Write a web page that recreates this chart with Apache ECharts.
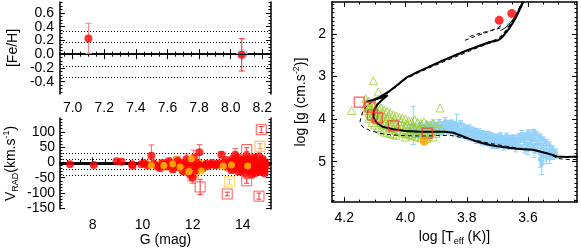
<!DOCTYPE html>
<html><head><meta charset="utf-8">
<script src="https://cdn.jsdelivr.net/npm/echarts@6/dist/echarts.min.js"></script>
<style>html,body{margin:0;padding:0;background:#fff}#c{width:581px;height:251px}</style>
</head><body><div id="c"></div>
<script>
// ---------------- DATA ----------------
// Top-left: [Fe/H] vs G
const fehG = [7.10, 8.07];
const fehVal = [0.23, -0.01];
const fehErr = [0.22, 0.235];
const fehMean = [0.0];
const fehDotted = [0.33, 0.165, -0.165, -0.33];
const fehXTicks = [7.0, 7.2, 7.4, 7.6, 7.8, 8.0, 8.2];
const fehYTicks = [-0.4, -0.2, 0.0, 0.2, 0.4, 0.6];
const fehYLabelsA = [-0.4, 0.0, 0.4];
const fehYLabelsB = [-0.2, 0.2, 0.6];

// Bottom-left: V_RAD vs G  [G, V, err]
const vradMean = [-6];
const vradDotted = [29, 11, -23, -41];
const gTicks = [8, 10, 12, 14];
const vTicks = [-150, -100, -50, 0, 50, 100];
const vradRed = [
 [7.10,-6,0],[8.05,-8,0],[8.96,4,0],[9.16,2,0],[9.58,-6,0],[9.60,-11,0],[9.95,-6,0],[10.05,-3,0],
 [10.20,-10,0],[10.35,22,35],[10.45,-4,0],[10.60,-14,0],[10.70,-19,0],[10.80,-2,0],[10.90,-8,8],
 [11.00,-12,0],[11.05,3,12],[11.15,-6,0],[11.20,-22,10],[11.30,-10,0],[11.40,5,14],[11.45,-15,0],
 [11.55,-2,0],[11.60,-28,0],[11.70,-8,12],[11.75,10,18],[11.85,-18,0],[11.90,-40,20],[11.95,0,0],
 [12.00,-50,18],[12.05,15,25],[12.10,-12,0],[12.15,-25,12],[12.20,-5,0],[12.27,33,25],[12.30,-10,0],
 [12.40,-20,8],[12.55,-4,0],[12.62,-12,0],[12.70,-6,0],[12.80,-2,0],[12.88,-8,0],[12.95,-8,0],
 [13.05,-3,0],[13.15,25,10],[13.20,-6,0],[13.30,-12,0],[13.35,8,0],[13.45,-2,0],[13.50,0,0],
 [13.55,-25,10],[13.60,12,0],[13.65,-8,0],[13.70,25,20],[13.72,-12,0],[13.75,-15,0],[13.80,-30,0],
 [13.85,5,10],[13.88,-22,0],[13.90,-5,0],[13.95,-20,12],[14.00,10,0],[14.05,-10,0],[14.10,-35,15],
 [14.12,0,0],[14.15,20,12],[14.20,-3,0],[14.25,-18,0],[14.28,-28,0],[14.30,5,15],[14.35,-40,10],
 [14.40,-8,0],[14.42,8,0],[14.45,15,12],[14.50,-25,0],[14.55,0,0],[14.58,-20,0],[14.60,-12,10],
 [14.65,20,0],[14.70,-30,12],[14.72,-10,0],[14.75,-5,0],[14.80,10,10],[14.85,-15,0],[14.88,-28,0],
 [14.90,-2,0],[13.52,-15,0],[13.58,3,0],[13.68,-20,0],[13.78,0,0],[13.82,15,0],[13.92,-30,0],
 [14.02,-18,0],[14.08,5,0],[14.18,-25,0],[14.22,12,0],[14.32,-12,0],[14.38,0,0],[14.48,-35,0],
 [14.52,-5,0],[14.62,-28,0],[14.68,-15,0],[14.78,-22,0],[14.82,3,0],[14.86,-35,0],[14.92,-10,0]
];
const vradOrange = [
 [10.15,-4,0],[10.50,-8,0],[10.75,-4,10],[10.95,-14,0],[11.10,-2,0],[11.25,-20,0],[11.35,8,12],
 [11.50,-10,0],[11.65,-30,10],[11.80,2,0],[12.02,-8,0],[12.12,-35,15],[12.25,0,0],[12.45,-15,0],
 [13.10,-8,0],[13.25,0,0],[13.40,-18,0],[13.62,-5,0],[13.98,-10,0],[14.35,-5,0],[14.62,5,0],[14.80,-20,0]
];
const vradYellow = [
 [10.35,-10,0],[10.85,-10,0],[11.20,-5,0],[11.50,-15,0],[11.85,-30,0],[11.95,12,0],[12.35,-28,0],
 [13.22,-12,0],[13.55,-8,0],[14.20,-12,0]
];
const vradSqRed = [[12.30,-80,25],[13.38,-103,6],[14.16,42,6],[14.16,-60,8],[14.74,107,10],[14.65,-110,10]];
const vradSqOrange = [[14.69,53,8]];
const vradSqYellow = [[13.47,-63,8]];

// Right: log g vs log Teff
const teffTicks = [3.6, 3.8, 4.0, 4.2];
const loggTicks = [2, 3, 4, 5];
// [logTeff, logg, err]
const blueStars = [
 [3.99,4.25,0.06],[3.99,4.30,0.05],[3.98,4.20,0.08],[3.98,4.32,0.05],[3.975,4.15,0.45],
 [3.97,4.18,0.06],[3.97,4.28,0.07],[3.96,4.22,0.05],[3.96,4.33,0.06],[3.95,4.15,0.07],
 [3.95,4.27,0.05],[3.95,4.35,0.06],[3.94,4.20,0.06],[3.94,4.30,0.08],[3.93,4.12,0.05],
 [3.93,4.25,0.07],[3.92,4.18,0.06],[3.92,4.28,0.05],[3.92,4.36,0.06],[3.91,4.10,0.08],
 [3.91,4.22,0.06],[3.91,4.30,0.05],[3.90,4.14,0.06],[3.90,4.26,0.07],[3.90,4.33,0.05],
 [3.89,4.08,0.07],[3.89,4.20,0.05],[3.89,4.30,0.06],[3.88,4.12,0.06],[3.88,4.24,0.08],
 [3.88,4.32,0.05],[3.87,4.05,0.09],[3.87,4.18,0.06],[3.87,4.27,0.05],[3.86,4.10,0.07],
 [3.86,4.22,0.06],[3.86,4.30,0.05],[3.85,4.08,0.06],[3.85,4.16,0.08],[3.85,4.28,0.06],
 [3.84,4.12,0.07],[3.84,4.24,0.05],[3.84,4.33,0.06],[3.833,4.12,0.23],[3.83,4.15,0.06],
 [3.83,4.22,0.05],[3.83,4.35,0.07],[3.82,4.10,0.06],[3.82,4.26,0.05],[3.82,4.38,0.06],
 [3.81,4.18,0.07],[3.81,4.30,0.06],[3.81,4.40,0.05],[3.80,4.20,0.06],[3.80,4.28,0.05],
 [3.80,4.42,0.07],[3.79,4.22,0.08],[3.79,4.35,0.06],[3.79,4.44,0.05],[3.78,4.25,0.06],
 [3.78,4.32,0.07],[3.78,4.46,0.05],[3.77,4.28,0.06],[3.77,4.40,0.05],[3.77,4.50,0.07],
 [3.76,4.30,0.07],[3.76,4.38,0.06],[3.76,4.52,0.05],[3.75,4.32,0.05],[3.75,4.45,0.08],
 [3.75,4.55,0.06],[3.74,4.35,0.06],[3.74,4.42,0.05],[3.74,4.56,0.07],[3.73,4.36,0.07],
 [3.73,4.48,0.06],[3.73,4.58,0.05],[3.72,4.38,0.06],[3.72,4.46,0.05],[3.72,4.60,0.08],
 [3.71,4.40,0.05],[3.71,4.50,0.06],[3.71,4.62,0.07],[3.70,4.42,0.07],[3.70,4.52,0.05],
 [3.70,4.63,0.06],[3.69,4.38,0.06],[3.69,4.48,0.07],[3.69,4.60,0.05],[3.68,4.44,0.05],
 [3.68,4.55,0.06],[3.68,4.65,0.08],[3.67,4.40,0.07],[3.67,4.50,0.05],[3.67,4.62,0.06],
 [3.66,4.45,0.06],[3.66,4.56,0.07],[3.66,4.66,0.05],[3.65,4.42,0.05],[3.65,4.52,0.08],
 [3.65,4.64,0.06],[3.64,4.46,0.07],[3.64,4.58,0.05],[3.64,4.68,0.09],[3.63,4.40,0.06],
 [3.63,4.50,0.05],[3.63,4.62,0.07],[3.62,4.35,0.08],[3.62,4.48,0.06],[3.62,4.66,0.05],
 [3.61,4.38,0.06],[3.61,4.52,0.07],[3.61,4.70,0.10],[3.60,4.32,0.07],[3.60,4.45,0.06],
 [3.60,4.60,0.05],[3.60,4.72,0.12],[3.59,4.38,0.12],[3.59,4.50,0.06],[3.59,4.65,0.08],
 [3.58,4.30,0.06],[3.58,4.46,0.07],[3.58,4.62,0.05],[3.58,4.75,0.15],[3.57,4.38,0.08],
 [3.57,4.55,0.06],[3.57,4.70,0.10],[3.56,4.42,0.07],[3.56,4.60,0.09],[3.56,4.80,0.12],
 [3.56,4.95,0.18],[3.555,5.05,0.25],[3.55,4.48,0.06],[3.55,4.65,0.08],[3.55,4.85,0.14],
 [3.54,4.55,0.07],[3.54,4.72,0.10],[3.54,4.90,0.15],[3.53,4.62,0.08],[3.53,4.78,0.09],
 [3.53,4.92,0.12],[3.52,4.70,0.07],[3.52,4.85,0.10],[3.51,4.78,0.08],[3.51,4.86,0.06],
 [3.662,1.80,0.03],[3.655,1.74,0.03]
];
const greenTri = [
 [4.176,3.80],[4.105,3.10],[4.089,3.36],[3.887,3.74],[3.882,4.23],
 [4.13,3.52],[4.13,3.66],[4.13,3.80],[4.12,3.58],[4.12,3.72],[4.12,3.86],[4.12,3.98],
 [4.11,3.62],[4.11,3.78],[4.11,3.94],[4.11,4.08],[4.10,3.66],[4.10,3.82],[4.10,3.98],[4.10,4.14],
 [4.09,3.70],[4.09,3.86],[4.09,4.02],[4.09,4.20],[4.08,3.74],[4.08,3.90],[4.08,4.08],[4.08,4.26],
 [4.07,3.78],[4.07,3.94],[4.07,4.12],[4.07,4.30],[4.06,3.82],[4.06,3.98],[4.06,4.16],[4.06,4.32],
 [4.05,3.86],[4.05,4.02],[4.05,4.20],[4.05,4.34],[4.04,3.90],[4.04,4.06],[4.04,4.22],[4.04,4.36],
 [4.03,3.92],[4.03,4.10],[4.03,4.26],[4.03,4.38],[4.02,3.96],[4.02,4.12],[4.02,4.28],
 [4.01,3.98],[4.01,4.16],[4.01,4.32],[4.00,4.00],[4.00,4.18],[4.00,4.34],[4.00,4.42],
 [3.99,4.04],[3.99,4.20],[3.99,4.36],[3.98,4.06],[3.98,4.22],[3.98,4.38],[3.97,4.02],[3.97,4.24],
 [3.97,4.40],[3.96,4.08],[3.96,4.26],[3.96,4.42],[3.95,4.10],[3.95,4.28],[3.95,4.44],
 [3.94,4.06],[3.94,4.22],[3.94,4.38],[3.93,4.12],[3.93,4.30],[3.93,4.45],[3.92,4.14],[3.92,4.32],
 [3.91,4.10],[3.91,4.28],[3.91,4.42],[3.90,4.16],[3.90,4.34],
 [4.125,3.60],[4.115,3.70],[4.105,3.88],[4.095,3.78],[4.085,3.96],[4.075,3.86],[4.065,4.05],
 [4.055,3.94],[4.045,4.12],[4.035,4.00],[4.025,4.18],[4.015,4.06],[4.005,4.25],[3.995,4.12],
 [3.985,4.30],[3.975,4.16],[3.965,4.34],[3.955,4.20],[3.945,4.35],[3.935,4.24],[3.925,4.40]
];
const redSquaresR = [[4.151,3.60],[4.116,3.72],[4.108,3.90],[4.092,3.97],[4.04,4.16],[3.929,4.33]];
const orangeDotR = [[3.939,4.52]];
const redGiants = [[3.694,1.68],[3.653,1.52]];
const isoSolid = [
 [3.437,4.88],[3.474,4.89],[3.506,4.88],[3.525,4.83],[3.545,4.79],[3.583,4.72],[3.63,4.70],[3.670,4.67],
 [3.700,4.64],[3.724,4.61],[3.750,4.56],[3.779,4.50],[3.800,4.44],[3.822,4.38],[3.844,4.32],[3.870,4.30],
 [3.90,4.30],[3.95,4.30],[4.00,4.28],[4.04,4.24],[4.075,4.18],[4.095,4.08],[4.105,3.95],[4.103,3.80],
 [4.092,3.66],[4.075,3.54],[4.058,3.44],[4.08,3.50],[4.105,3.55],[4.127,3.59],[4.11,3.56],[4.083,3.48],
 [4.05,3.33],[4.025,3.19],[3.996,3.02],[3.96,2.89],[3.92,2.76],[3.88,2.63],[3.833,2.49],[3.80,2.39],
 [3.767,2.30],[3.74,2.23],[3.724,2.19],[3.705,2.16],[3.697,2.15],[3.688,2.10],[3.681,2.05],[3.670,1.95],
 [3.659,1.85],[3.648,1.72],[3.637,1.58],[3.625,1.40],[3.615,1.24]
];
const isoSolid2 = [[3.69,1.92],[3.675,1.86],[3.665,1.80],[3.655,1.72],[3.645,1.62],[3.632,1.45],[3.622,1.30],[3.617,1.24]];
const isoDashA = [
 [3.441,4.95],[3.475,4.95],[3.506,4.92],[3.528,4.82],[3.56,4.76],[3.615,4.70],[3.67,4.64],[3.724,4.57],
 [3.79,4.47],[3.855,4.38],[3.90,4.39],[3.942,4.40],[4.00,4.39],[4.051,4.37],[4.085,4.33],[4.116,4.27],
 [4.14,4.18],[4.149,4.08],[4.145,3.95],[4.138,3.80],[4.125,3.68],[4.11,3.60],[4.09,3.52],[4.06,3.40],
 [4.03,3.24],[4.00,3.06],[3.96,2.92],[3.92,2.79],[3.87,2.64],[3.83,2.52],[3.79,2.40],[3.76,2.31],
 [3.73,2.23],[3.71,2.19],[3.695,2.12],[3.68,2.00],[3.665,1.86],[3.652,1.72],[3.64,1.56],[3.628,1.38],[3.62,1.24]
];
const isoDashB = [
 [4.06,3.40],[4.03,3.22],[4.00,3.05],[3.96,2.90],[3.92,2.75],[3.87,2.60],[3.833,2.47],[3.79,2.36],
 [3.76,2.27],[3.72,2.17],[3.70,2.12],[3.685,2.02],[3.67,1.90],[3.655,1.75],[3.64,1.58],[3.63,1.42],[3.62,1.30]
];
const isoDashC = [[3.806,2.15],[3.77,2.05],[3.73,1.95],[3.70,1.86],[3.686,1.80]];
const isoDashD = [[3.79,2.06],[3.76,1.99],[3.72,1.92],[3.69,1.86]];

// ---------------- CHART ----------------
const FONT = '"Liberation Sans", Arial, Helvetica, sans-serif';
function steps(a, b, s) { const r = []; for (let i = 0; a + i * s <= b + 1e-9; i++) r.push(+(a + i * s).toFixed(6)); return r; }
const blk = {color: '#000', width: 1.5};
function lbl(vals, fmt, margin) {
  return {show: true, interval: 0, customValues: vals, formatter: fmt, margin: margin, color: '#000', fontSize: 14,
    fontFamily: FONT, showMinLabel: true, showMaxLabel: true, hideOverlap: false};
}
function axes(dim, grid, min, max, major, minor, labels, labels2, fmt, name, nameGap, margin, inverse, rich) {
  const pos = dim === 'x' ? ['bottom', 'top'] : ['left', 'right'];
  const base = {type: 'value', gridIndex: grid, min: min, max: max, inverse: !!inverse, splitLine: {show: false}, silent: true};
  const tick = (vals, len) => ({show: true, inside: true, length: len, customValues: vals, lineStyle: {color: '#000', width: 1}});
  return [
    Object.assign({}, base, {position: pos[0], axisLine: {show: true, lineStyle: blk}, axisTick: tick(major, 5),
      axisLabel: lbl(labels, fmt, margin),
      name: name, nameLocation: 'middle', nameGap: nameGap,
      nameTextStyle: {color: '#000', fontSize: 14, fontFamily: FONT, rich: rich}}),
    Object.assign({}, base, {position: pos[0], axisLine: {show: false}, axisTick: tick(minor, 2.5),
      axisLabel: labels2 ? lbl(labels2, fmt, margin) : {show: false}}),
    Object.assign({}, base, {position: pos[1], axisLine: {show: true, lineStyle: blk}, axisTick: tick(major, 5), axisLabel: {show: false}}),
    Object.assign({}, base, {position: pos[1], axisLine: {show: false}, axisTick: tick(minor, 2.5), axisLabel: {show: false}})
  ];
}
const rich = {
  a: {fontSize: 14, fontFamily: FONT, color: '#000', lineHeight: 18},
  s: {fontSize: 9, fontFamily: FONT, color: '#000', lineHeight: 10, verticalAlign: 'bottom'},
  p: {fontSize: 9, fontFamily: FONT, color: '#000', lineHeight: 10, verticalAlign: 'top'}
};
const f1 = v => (+v).toFixed(1);
const f0 = v => String(Math.round(v));

const xAxis = [].concat(
  axes('x', 0, 6.92, 8.255, fehXTicks, steps(6.95, 8.25, 0.05), fehXTicks, null, f1, '', 20, 7),
  axes('x', 1, 6.70, 15.13, gTicks, steps(7.0, 15.0, 0.5), gTicks, null, f0, 'G (mag)', 24, 9),
  axes('x', 2, 3.44, 4.24, teffTicks, steps(3.45, 4.20, 0.05), teffTicks, null, f1, '{a|log [T}{s|eff}{a| (K)]}', 22, 9, true, rich)
);
const yAxis = [].concat(
  axes('y', 0, -0.58, 0.76, fehYTicks, steps(-0.55, 0.75, 0.05), fehYLabelsA, fehYLabelsB, f1, '[Fe/H]', 40, 6),
  axes('y', 1, -152, 145, vTicks, steps(-150, 140, 10), vTicks, null, f0, '{a|V}{s|RAD}{a|(km.s}{p|-1}{a|)}', 40, 5, false, rich),
  axes('y', 2, 1.25, 5.95, loggTicks, steps(1.3, 5.9, 0.1), loggTicks, null, f0, '{a|log [g (cm.s}{p|-2}{a|)]}', 22, 6, true, rich)
);

function errBar(color, cap, width) {
  return function (params, api) {
    const x = api.value(0), y = api.value(1), e = api.value(2);
    if (!e) return null;
    const a = api.coord([x, y - e]), b = api.coord([x, y + e]);
    const st = {stroke: color, lineWidth: width};
    return {type: 'group', children: [
      {type: 'line', shape: {x1: a[0], y1: a[1], x2: b[0], y2: b[1]}, style: st},
      {type: 'line', shape: {x1: a[0] - cap, y1: a[1], x2: a[0] + cap, y2: a[1]}, style: st},
      {type: 'line', shape: {x1: b[0] - cap, y1: b[1], x2: b[0] + cap, y2: b[1]}, style: st}
    ]};
  };
}
function errSeries(xi, yi, data, color, cap, z) {
  return {type: 'custom', xAxisIndex: xi, yAxisIndex: yi, data: data, renderItem: errBar(color, cap, 1), z: z, silent: true, encode: {x: 0, y: 1}};
}
function scat(xi, yi, data, symbol, size, style, z) {
  return {type: 'scatter', xAxisIndex: xi, yAxisIndex: yi, data: data, symbol: symbol, symbolSize: size, itemStyle: style, z: z, silent: true};
}
function refLines(xi, yi, vals, type, width) {
  return {type: 'scatter', xAxisIndex: xi, yAxisIndex: yi, data: [], z: 1, silent: true,
    markLine: {silent: true, symbol: 'none', label: {show: false}, animation: false,
      lineStyle: {color: '#000', type: type, width: width}, data: vals.map(v => ({yAxis: v}))}};
}
function line(data, dashed, width, z) {
  return {type: 'line', xAxisIndex: 8, yAxisIndex: 8, data: data, showSymbol: false, symbol: 'none', silent: true, z: z,
    lineStyle: {color: '#000', width: width, type: dashed ? [4, 3] : 'solid'}};
}

const fehPts = fehG.map((g, i) => [g, fehVal[i], fehErr[i]]);
const series = [
  // top-left
  refLines(0, 0, fehMean, 'solid', 1),
  refLines(0, 0, fehDotted, [1, 2], 1),
  errSeries(0, 0, [fehPts[0]], '#ff8080', 3, 3),
  scat(0, 0, [fehPts[1]], 'circle', 12, {color: '#bfe3fa'}, 2),
  errSeries(0, 0, [fehPts[1]], '#ff2020', 3, 3),
  scat(0, 0, fehPts, 'circle', 8, {color: '#ff0000'}, 4),
  // bottom-left
  refLines(4, 4, vradMean, 'solid', 1),
  refLines(4, 4, vradDotted, [1, 2], 1),
  errSeries(4, 4, vradRed, '#ff6060', 3, 3),
  errSeries(4, 4, vradOrange, '#ffa040', 3, 3),
  scat(4, 4, vradOrange, 'circle', 8, {color: '#ff8c00'}, 4),
  scat(4, 4, vradRed, 'circle', 8, {color: '#ff0000'}, 5),
  scat(4, 4, vradYellow, 'circle', 7, {color: '#ffc400'}, 6),
  scat(4, 4, vradSqRed, 'rect', 10, {color: 'transparent', borderColor: '#ff3030', borderWidth: 1}, 7),
  errSeries(4, 4, vradSqRed, '#ff3030', 2.5, 7),
  scat(4, 4, vradSqOrange, 'rect', 10, {color: 'transparent', borderColor: '#ff9a30', borderWidth: 1}, 7),
  errSeries(4, 4, vradSqOrange, '#ff9a30', 2.5, 7),
  scat(4, 4, vradSqYellow, 'rect', 10, {color: 'transparent', borderColor: '#ffcc40', borderWidth: 1}, 7),
  errSeries(4, 4, vradSqYellow, '#ffcc40', 2.5, 7),
  // right
  errSeries(8, 8, blueStars, '#8fd0f7', 2.5, 2),
  scat(8, 8, blueStars, 'circle', 5, {color: '#8fd0f7'}, 2),
  scat(8, 8, greenTri, 'triangle', 8, {color: 'transparent', borderColor: '#9acd32', borderWidth: 1}, 3),
  line(isoDashA, true, 1, 5),
  line(isoDashB, true, 1, 5),
  line(isoDashC, true, 1, 5),
  line(isoDashD, true, 1, 5),
  line(isoSolid, false, 2, 6),
  line(isoSolid2, false, 1, 6),
  scat(8, 8, redSquaresR, 'rect', 10, {color: 'transparent', borderColor: '#ff3030', borderWidth: 1.2}, 8),
  scat(8, 8, orangeDotR, 'circle', 9, {color: '#ffa500'}, 8),
  scat(8, 8, redGiants, 'circle', 9, {color: '#ff0000'}, 8)
];

const chart = echarts.init(document.getElementById('c'), null, {renderer: 'canvas'});
chart.setOption({
  animation: false,
  backgroundColor: '#fff',
  grid: [
    {left: 60, top: 2, width: 211, height: 92},
    {left: 60, top: 118, width: 211, height: 91},
    {left: 332, top: 2, width: 245, height: 207}
  ],
  xAxis: xAxis,
  yAxis: yAxis,
  series: series
});
</script></body></html>
